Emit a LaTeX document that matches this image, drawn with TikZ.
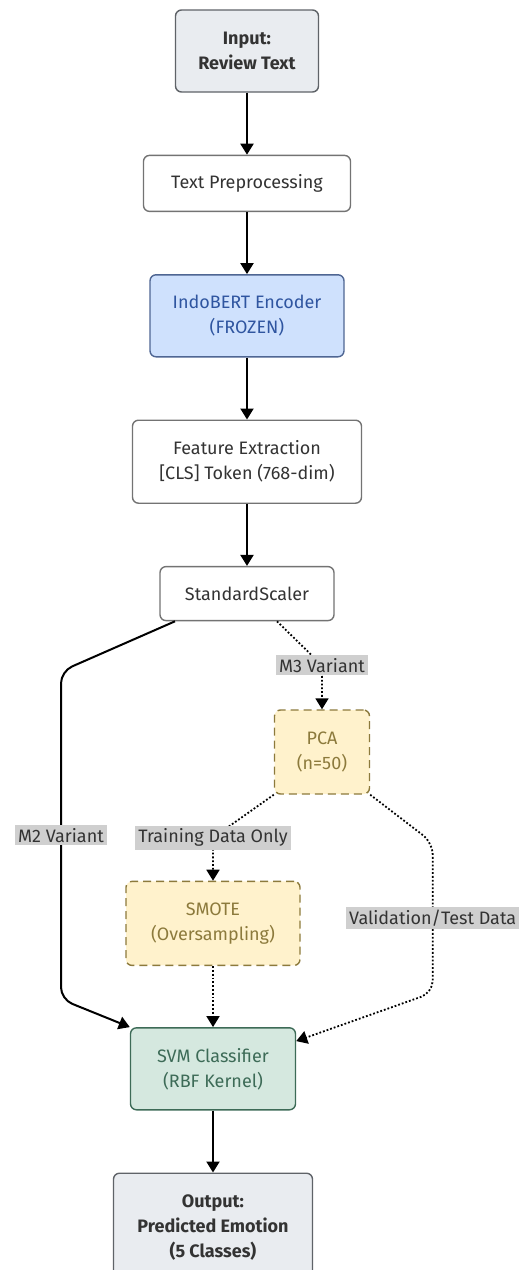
\documentclass[tikz,border=0pt]{standalone}
\usepackage{fontspec}
\setmainfont{Fira Sans}
\usetikzlibrary{arrows.meta,calc,positioning}
\definecolor{ink}{HTML}{333333}
\definecolor{io}{HTML}{E9ECF0}
\definecolor{IO}{HTML}{5F6368}
\definecolor{b}{HTML}{CFE1FD}
\definecolor{B}{HTML}{2F55A0}
\definecolor{y}{HTML}{FFF2CC}
\definecolor{Y}{HTML}{8C7A3C}
\definecolor{g}{HTML}{D5E8DF}
\definecolor{G}{HTML}{3D6B57}
\definecolor{lblgray}{HTML}{CFCFCF}

\begin{document}
\begin{tikzpicture}[font=\fontsize{9}{12.5}\selectfont,>={Triangle[length=5.5pt,width=6.5pt]},node distance=31pt,
  box/.style={draw=black!55,line width=0.7pt,rounded corners=3pt,fill=white,text=ink,
    align=center,inner sep=2pt},
  iobox/.style={box,fill=io,draw=IO,font=\fontsize{9}{12.5}\selectfont\bfseries},
  enc/.style={box,fill=b,draw=B!60!gray,text=B},
  opt/.style={box,fill=y,draw=Y,dash pattern=on 4pt off 2.5pt,text=Y},
  clf/.style={box,fill=g,draw=G,text=G},
  lbl/.style={fill=lblgray,text=ink,inner sep=1.5pt,sharp corners,solid},
  arr/.style={->,line width=1pt},
  dotarr/.style={->,line width=0.9pt,densely dotted,rounded corners=6pt}]
  \useasboundingbox (0,0) rectangle (261.5pt,-635pt);
  \node[iobox,minimum width=71.5pt,minimum height=41pt] (input) at (123.5pt,-25.5pt) {Input:\\Review Text};
  \node[box,below=of input,minimum width=103.5pt,minimum height=28pt] (prep) {Text Preprocessing};
  \node[enc,below=of prep,minimum width=97pt,minimum height=41pt] (bert) {IndoBERT Encoder\\(FROZEN)};
  \node[box,below=of bert,minimum width=114.5pt,minimum height=41.5pt] (feat) {Feature Extraction\\{[CLS]} Token (768-dim)};
  \node[box,below=of feat,minimum width=87pt,minimum height=27pt] (ss) {StandardScaler};
  \node[opt,below=44pt of ss,xshift=37.5pt,minimum width=47.5pt,minimum height=42pt] (pca) {PCA\\(n=50)};
  \node[opt,below=43pt of pca,xshift=-54.5pt,minimum width=87pt,minimum height=42pt] (smote) {SMOTE\\(Oversampling)};
  \node[clf,below=30.5pt of smote,minimum width=82.5pt,minimum height=41pt] (svm) {SVM Classifier\\(RBF Kernel)};
  \node[iobox,below=of svm,minimum width=99.5pt,minimum height=54pt] (out) {Output:\\Predicted Emotion\\(5 Classes)};
  % main chain
  \draw[arr] (input)--(prep); \draw[arr] (prep)--(bert);
  \draw[arr] (bert)--(feat); \draw[arr] (feat)--(ss);
  \draw[arr] (svm)--(out);
  % variants
  \draw[arr,rounded corners=6pt] ([xshift=-36pt]ss.south) -- ++(-57pt,-25pt)
    -- ++(0,-164pt) node[lbl,pos=0.5] {M2 Variant} -- (svm.north west);
  \draw[dotarr] ([xshift=15pt]ss.south) -- ([yshift=22pt]pca.north) node[lbl] {M3 Variant} -- (pca.north);
  \draw[dotarr] (pca.south west) -- ([yshift=21.5pt]smote.north) node[lbl] {Training Data Only} -- (smote.north);
  \draw[dotarr] (pca.south east) -- ++(31.25pt,-24pt)
    -- ++(0,-75pt) node[lbl,pos=0.5] {Validation/Test Data} -- ([yshift=-7pt]svm.north east);
  \draw[dotarr] (smote)--(svm);
\end{tikzpicture}
\end{document}
